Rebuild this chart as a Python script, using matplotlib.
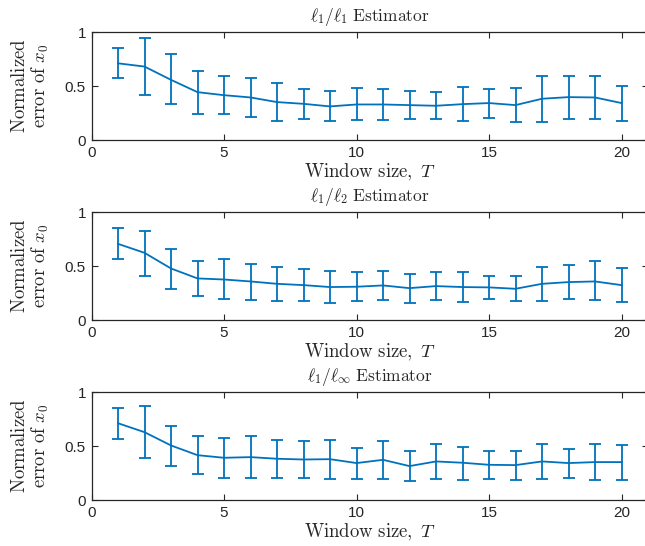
import matplotlib
matplotlib.use("Agg")
import matplotlib.pyplot as plt

plt.rcParams["mathtext.fontset"] = "cm"
plt.rcParams["font.family"] = ["Liberation Sans", "DejaVu Sans"]

window = list(range(1, 21))

# l1/l1 estimator: mean, lower and upper error bar ends
l1_mean = [0.71, 0.68, 0.557, 0.443, 0.415, 0.394, 0.351, 0.335, 0.311, 0.329,
           0.329, 0.323, 0.317, 0.332, 0.342, 0.323, 0.382, 0.397, 0.394, 0.342]
l1_low = [0.57, 0.415, 0.33, 0.24, 0.24, 0.215, 0.175, 0.197, 0.175, 0.185,
          0.185, 0.191, 0.191, 0.175, 0.203, 0.166, 0.166, 0.197, 0.197, 0.175]
l1_high = [0.855, 0.948, 0.794, 0.637, 0.588, 0.572, 0.526, 0.471, 0.455, 0.477,
           0.471, 0.455, 0.449, 0.489, 0.471, 0.483, 0.588, 0.594, 0.588, 0.502]

# l1/l2 estimator
l2_mean = [0.705, 0.622, 0.477, 0.385, 0.375, 0.357, 0.335, 0.323, 0.305, 0.308,
           0.32, 0.295, 0.314, 0.305, 0.302, 0.289, 0.335, 0.351, 0.357, 0.323]
l2_low = [0.563, 0.403, 0.289, 0.218, 0.191, 0.185, 0.175, 0.175, 0.154, 0.175,
          0.185, 0.16, 0.185, 0.166, 0.197, 0.175, 0.178, 0.197, 0.182, 0.166]
l2_high = [0.849, 0.828, 0.662, 0.548, 0.563, 0.523, 0.492, 0.471, 0.452, 0.443,
           0.458, 0.425, 0.449, 0.44, 0.409, 0.403, 0.489, 0.508, 0.542, 0.48]

# l1/linf estimator
linf_mean = [0.711, 0.628, 0.505, 0.415, 0.391, 0.397, 0.382, 0.375, 0.378, 0.342,
             0.372, 0.314, 0.357, 0.345, 0.326, 0.323, 0.357, 0.342, 0.351, 0.351]
linf_low = [0.563, 0.385, 0.317, 0.237, 0.2, 0.206, 0.2, 0.2, 0.197, 0.197,
            0.194, 0.175, 0.197, 0.185, 0.197, 0.182, 0.197, 0.2, 0.188, 0.188]
linf_high = [0.855, 0.868, 0.689, 0.594, 0.578, 0.588, 0.56, 0.542, 0.551, 0.477,
             0.548, 0.455, 0.514, 0.489, 0.452, 0.458, 0.523, 0.474, 0.514, 0.505]

titles = [r"$\ell_1/\ell_1\ \mathrm{Estimator}$", r"$\ell_1/\ell_2\ \mathrm{Estimator}$",
          r"$\ell_1/\ell_\infty\ \mathrm{Estimator}$"]
series = [(l1_mean, l1_low, l1_high), (l2_mean, l2_low, l2_high),
          (linf_mean, linf_low, linf_high)]

W, H = 645, 546
fig = plt.figure(figsize=(W / 100, H / 100), dpi=100)

tops = [32, 212, 392]
ax_h = 108
left = 91.5
ax_w = 21 * 26.5
dark = "#262626"

for top, title, (mean, low, high) in zip(tops, titles, series):
    ax = fig.add_axes([left / W, 1 - (top + ax_h) / H, ax_w / W, ax_h / H])
    err = [[m - lo for m, lo in zip(mean, low)], [hi - m for m, hi in zip(mean, high)]]
    ax.errorbar(window, mean, yerr=err, color="#0072BD", lw=1.3,
                elinewidth=1.3, capsize=4.5, capthick=1.3)
    ax.set_xlim(0, 21)
    ax.set_ylim(0, 1)
    ax.set_xticks([0, 5, 10, 15, 20])
    ax.set_yticks([0, 0.5, 1])
    ax.set_yticklabels(["0", "0.5", "1"])
    ax.tick_params(direction="in", length=4, width=0.8, labelsize=11,
                   colors=dark, top=True, right=True, pad=4)
    for s in ax.spines.values():
        s.set_color(dark)
        s.set_linewidth(0.9)
    ax.set_title(title, fontsize=12.5, pad=8, color=dark)
    ax.set_xlabel(r"$\mathrm{Window\ size,}\ T$", fontsize=13.5, labelpad=2, color=dark)
    ax.set_ylabel("$\\mathrm{Normalized}$\n$\\mathrm{error\\ of}\\ x_0$",
                  fontsize=13.5, labelpad=10, linespacing=1.05, color=dark)

fig.savefig("out.png", dpi=100)
